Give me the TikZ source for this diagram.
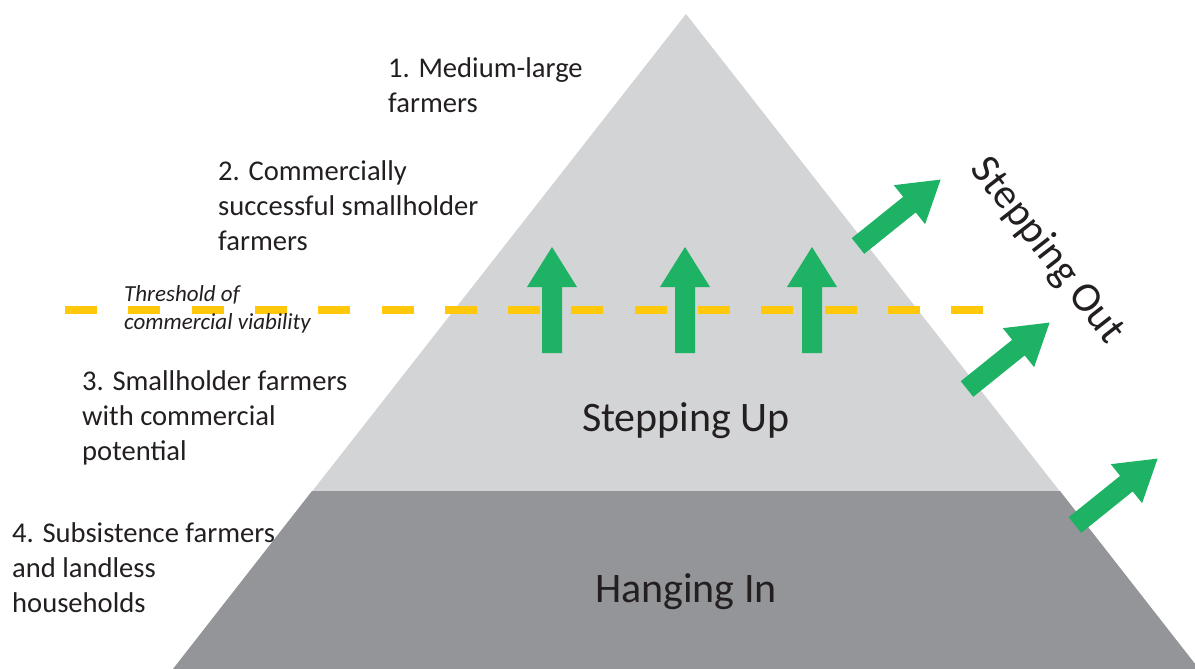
\documentclass[tikz,border=0pt]{standalone}
\usepackage{fontspec}
\setmainfont{Carlito}
\definecolor{lightpyr}{HTML}{D3D4D6}
\definecolor{darkpyr}{HTML}{939598}
\definecolor{arrowgreen}{HTML}{1DB264}
\definecolor{threshyellow}{HTML}{FFC80A}
\definecolor{textdark}{HTML}{231F20}
\tikzset{
  label/.style={anchor=base west, align=left, inner sep=0pt, text=textdark,
    font=\fontsize{28.6}{35}\selectfont},
  bigtext/.style={anchor=base, inner sep=0pt, text=textdark,
    font=\fontsize{42}{48}\selectfont},
  threshtext/.style={anchor=base west, align=left, inner sep=0pt, text=textdark,
    font=\fontsize{23}{28}\selectfont\itshape},
  arrowshape/.style={fill=arrowgreen, draw=none}
}
\newcommand{\greenarrow}[3]{%
  \fill[arrowshape, shift={(#1,#2)}, rotate=#3]
    (0,-10) -- (66,-10) -- (66,-25) -- (106,0) -- (66,25) -- (66,10) -- (0,10) -- cycle;}
\begin{document}
\begin{tikzpicture}[x=1pt,y=-1pt]
\useasboundingbox (0,0) rectangle (1195,669);
\begin{scope}
\clip (0,0) rectangle (1195,669);
% pyramid
\fill[lightpyr] (686,14) -- (173,669) -- (1199,669) -- cycle;
\fill[darkpyr] (312,491) -- (1060,491) -- (1199,669) -- (173,669) -- cycle;
\end{scope}
% threshold line
\coordinate (thrA) at (65,310);
\coordinate (thrB) at (984,310);
\draw[threshyellow, line width=8pt, dash pattern=on 32pt off 31.3pt] (thrA) -- (thrB);
\node[threshtext] (thr) at (124,329) {Threshold of\\commercial viability};
% up arrows
\greenarrow{552}{353}{90}
\greenarrow{685}{353}{90}
\greenarrow{812}{353}{90}
% out arrows
\greenarrow{858}{246}{38.8}
\greenarrow{967}{389}{38.8}
\greenarrow{1075}{525}{38.8}
% labels
\node[label] (l1) at (388,112) {1. Medium-large\\farmers};
\node[label] (l2) at (218,250) {2. Commercially\\successful smallholder\\farmers};
\node[label] (l3) at (82,460) {3. Smallholder farmers\\with commercial\\potential};
\node[label] (l4) at (12,612) {4. Subsistence farmers\\and landless\\households};
\node[bigtext] (up) at (686,431) {Stepping Up};
\node[bigtext] (hang) at (686,602) {Hanging In};
\node[bigtext, anchor=center, rotate=-52] (out) at (1047,251) {Stepping Out};
\end{tikzpicture}
\end{document}
